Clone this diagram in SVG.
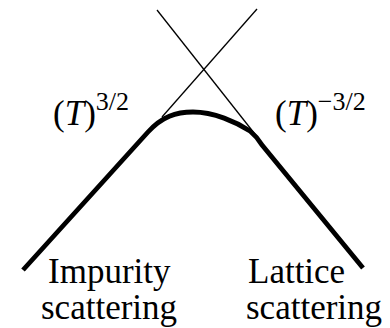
<svg xmlns="http://www.w3.org/2000/svg" width="390" height="328" viewBox="0 0 390 328">
<style>
.thin{fill:none;stroke:#000;stroke-width:1.3}
.thick{fill:none;stroke:#000;stroke-width:4.8;stroke-linejoin:round}
text{font-family:"Liberation Serif","Times New Roman",serif;fill:#000}
.lbl{font-size:35px}
.sup{font-size:26px}
</style>
<rect width="390" height="328" fill="#fff"/>
<g id="connectors">
<line class="thin" x1="157" y1="10" x2="258" y2="138"/>
<line class="thin" x1="257" y1="9" x2="162" y2="117"/>
<path class="thick" d="M23,270 L148,132 C162,116.5 176,112 193,112 C214,112 236,122 250,131 C256,136 259,140 262,145 L363,268"/>
</g>
<g id="impurity-exponent">
<text class="lbl" x="53" y="125">(<tspan font-style="italic">T</tspan>)<tspan class="sup" y="110">3/2</tspan></text>
</g>
<g id="lattice-exponent">
<text class="lbl" x="275" y="125">(<tspan font-style="italic">T</tspan>)<tspan class="sup" y="110">−3/2</tspan></text>
</g>
<g id="impurity-label">
<text class="lbl" x="48" y="283">Impurity</text>
<text class="lbl" x="41" y="319">scattering</text>
</g>
<g id="lattice-label">
<text class="lbl" x="248" y="283">Lattice</text>
<text class="lbl" x="246" y="319">scattering</text>
</g>
</svg>
